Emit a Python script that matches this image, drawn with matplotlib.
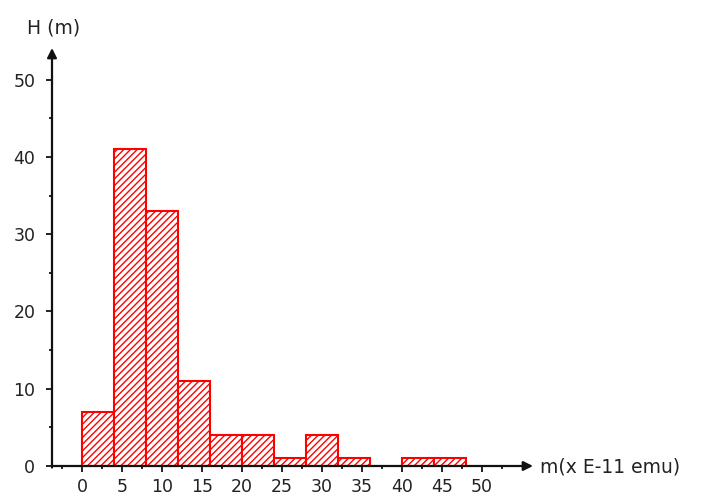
import matplotlib
matplotlib.use("Agg")
import matplotlib.pyplot as plt
import numpy as np

# Data
bin_edges = [0, 4, 8, 12, 16, 20, 24, 28, 32, 36, 40, 44, 48]
counts = [7, 41, 33, 11, 4, 4, 1, 4, 1, 0, 1, 1]
x_ticks = [0, 5, 10, 15, 20, 25, 30, 35, 40, 45, 50]
y_ticks = [0, 10, 20, 30, 40, 50]
x_label = "m(x E-11 emu)"
y_label = "H (m)"

W, H = 717, 495
fig = plt.figure(figsize=(W / 100, H / 100), dpi=100)
fig.patch.set_facecolor("white")

# axes placement in pixels
x0_px, x1_px = 52, 533
y0_px, y1_px = 466, 48
ax = fig.add_axes([x0_px / W, (H - y0_px) / H, (x1_px - x0_px) / W, (y0_px - y1_px) / H])
ax.set_xlim(-3.75, 56.4)
ax.set_ylim(0, 54.1)

plt.rcParams["hatch.linewidth"] = 1.0
plt.rcParams["hatch.color"] = "red"

widths = np.diff(bin_edges)
for left, w, c in zip(bin_edges[:-1], widths, counts):
    if c > 0:
        ax.bar(left, c, width=w, align="edge", facecolor="white",
               edgecolor="red", hatch="/////", linewidth=1.5, zorder=2)

for s in ["top", "right", "left", "bottom"]:
    ax.spines[s].set_visible(False)

col = "#111111"
# axes lines with arrows
ax.annotate("", xy=(56.4, 0), xytext=(-3.75, 0), xycoords="data",
            arrowprops=dict(arrowstyle="-|>", color=col, lw=1.6,
                            mutation_scale=14, shrinkA=0, shrinkB=0),
            annotation_clip=False, zorder=3)
ax.annotate("", xy=(-3.75, 54.1), xytext=(-3.75, -0.2), xycoords="data",
            arrowprops=dict(arrowstyle="-|>", color=col, lw=1.6,
                            mutation_scale=14, shrinkA=0, shrinkB=0),
            annotation_clip=False, zorder=3)

ax.set_xticks(x_ticks)
ax.set_xticklabels([str(v) for v in x_ticks])
ax.set_xticks(np.arange(-2.5, 53, 5), minor=True)
ax.set_yticks(y_ticks)
ax.set_yticklabels([str(v) for v in y_ticks])
ax.set_yticks(np.arange(5, 50, 10), minor=True)

ax.tick_params(axis="x", which="major", direction="out", length=4, width=1.3,
               color=col, labelsize=12.5, labelcolor="#222222", pad=5)
ax.tick_params(axis="x", which="minor", direction="out", length=2.5, width=1.3, color=col)
ax.tick_params(axis="y", which="major", direction="out", length=4, width=1.3,
               color=col, labelsize=12.5, labelcolor="#222222", pad=8)
ax.tick_params(axis="y", which="minor", direction="out", length=2.5, width=1.3, color=col)

fig.text(54 / W, 1 - 28 / H, y_label, ha="center", va="center", fontsize=13.5, color="#222222")
fig.text(540 / W, 1 - 467 / H, x_label, ha="left", va="center", fontsize=13.5, color="#222222")

fig.savefig("out.png", dpi=100, facecolor="white")
